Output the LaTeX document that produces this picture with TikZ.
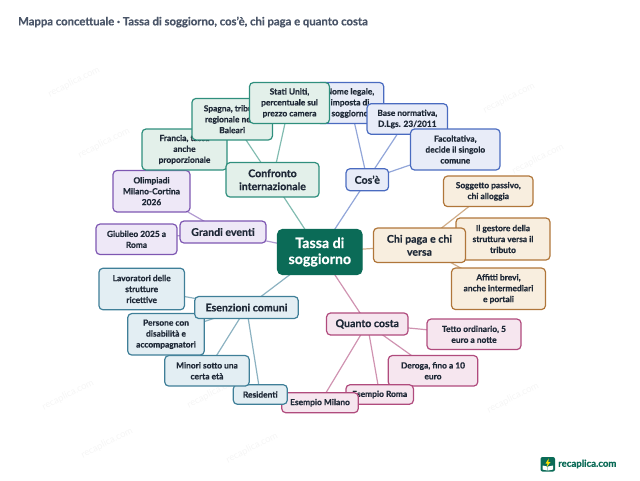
\documentclass[tikz,border=0pt]{standalone}
\usepackage{fontspec}
\setmainfont{Lato}[BoldFeatures={FakeBold=0.5}]
\usetikzlibrary{backgrounds}
\definecolor{rootgreen}{HTML}{0B6B57}
\definecolor{tealline}{HTML}{2F8F7D}
\definecolor{tealfill}{HTML}{E3F0EA}
\definecolor{blueline}{HTML}{4A6BC0}
\definecolor{bluefill}{HTML}{E8ECF8}
\definecolor{orangeline}{HTML}{B0763A}
\definecolor{orangefill}{HTML}{F8EEDF}
\definecolor{pinkline}{HTML}{B04B7D}
\definecolor{pinkfill}{HTML}{F6E6EF}
\definecolor{steelline}{HTML}{3F7F98}
\definecolor{steelfill}{HTML}{E3EEF3}
\definecolor{purpleline}{HTML}{7E57B2}
\definecolor{purplefill}{HTML}{EEE8F7}
\definecolor{titlegray}{HTML}{4A5568}
\definecolor{inkdark}{HTML}{1F2937}
\tikzset{
  box/.style={draw, line width=1.2pt, rounded corners=4pt, align=center, inner sep=0pt, text=inkdark},
  leaf/.style={box, font=\fontsize{8.4}{10.9}\selectfont\bfseries},
  branch/.style={box, font=\fontsize{10.6}{13}\selectfont\bfseries},
  teal/.style={draw=tealline, fill=tealfill},
  blue/.style={draw=blueline, fill=bluefill},
  orange/.style={draw=orangeline, fill=orangefill},
  pink/.style={draw=pinkline, fill=pinkfill},
  steel/.style={draw=steelline, fill=steelfill},
  purple/.style={draw=purpleline, fill=purplefill},
  link/.style={line width=1.2pt},
  wmark/.style={text=black!4, rotate=27, font=\fontsize{9.5}{11}\selectfont}
}
\begin{document}
\begin{tikzpicture}[x=1pt,y=-1pt]
  \useasboundingbox (0,0) rectangle (640,480);
  \node[anchor=west, inner sep=0pt, text=titlegray, font=\fontsize{11.3}{13}\selectfont\bfseries] (title) at (18,22) {Mappa concettuale · Tassa di soggiorno, cos'è, chi paga e quanto costa};
  % watermark
  \foreach \wx/\wy [count=\wi] in {74/82,104/143,509/98,538/159,107/443,252/448,68/395,213/393,513/398}
    \node[wmark] (wm\wi) at (\wx,\wy) {recaplica.com};
  % cos'e
  \node[leaf, blue, minimum width=67.5pt, minimum height=41pt] (nome) at (350,103) {Nome legale,\\imposta di\\soggiorno};
  \node[leaf, blue, minimum width=80.5pt, minimum height=30.5pt] (base) at (407.3,119) {Base normativa,\\D.Lgs. 23/2011};
  \node[leaf, blue, minimum width=89.5pt, minimum height=41pt] (facolt) at (455.3,149.5) {Facoltativa,\\decide il singolo\\comune};
  \node[branch, blue, minimum width=42.5pt, minimum height=22pt] (cose) at (367.3,179.7) {Cos'è};
  % chi paga
  \node[leaf, orange, minimum width=89.5pt, minimum height=30.5pt] (sogg) at (488.3,191.3) {Soggetto passivo,\\chi alloggia};
  \node[leaf, orange, minimum width=94pt, minimum height=42pt] (gest) at (503,239) {Il gestore della\\struttura versa il\\tributo};
  \node[leaf, orange, minimum width=94pt, minimum height=41.5pt] (affitti) at (498.5,288.8) {Affitti brevi,\\anche intermediari\\e portali};
  \node[branch, orange, minimum width=92pt, minimum height=34.5pt] (chipaga) at (419.5,245.3) {Chi paga e chi\\versa};
  % quanto costa
  \node[leaf, pink, minimum width=94pt, minimum height=30.5pt] (tetto) at (474,334.3) {Tetto ordinario, 5\\euro a notte};
  \node[leaf, pink, minimum width=89.5pt, minimum height=30.5pt] (deroga) at (433,370.8) {Deroga, fino a 10\\euro};
  \node[leaf, pink, minimum width=67.5pt, minimum height=19.5pt] (eroma) at (379.7,394.5) {Esempio Roma};
  \node[leaf, pink, minimum width=76.5pt, minimum height=20pt] (emilano) at (320,402.7) {Esempio Milano};
  \node[branch, pink, minimum width=81.5pt, minimum height=22pt] (quanto) at (367.3,324) {Quanto costa};
  % esenzioni
  \node[leaf, steel, minimum width=54pt, minimum height=19.5pt] (resid) at (260.3,394.5) {Residenti};
  \node[leaf, steel, minimum width=84.5pt, minimum height=30.5pt] (minori) at (207,370.8) {Minori sotto una\\certa età};
  \node[leaf, steel, minimum width=76.5pt, minimum height=41.5pt] (persone) at (166,334.3) {Persone con\\disabilità e\\accompagnatori};
  \node[leaf, steel, minimum width=85.5pt, minimum height=41.5pt] (lavor) at (141.7,289) {Lavoratori delle\\strutture\\ricettive};
  \node[branch, steel, minimum width=103.5pt, minimum height=22pt] (esenz) at (246.5,307.5) {Esenzioni comuni};
  % grandi eventi
  \node[leaf, purple, minimum width=81pt, minimum height=30.5pt] (giub) at (136.5,239.3) {Giubileo 2025 a\\Roma};
  \node[leaf, purple, minimum width=77pt, minimum height=41.5pt] (olimp) at (151.5,191.2) {Olimpiadi\\Milano-Cortina\\2026};
  \node[branch, purple, minimum width=86pt, minimum height=22pt] (grandi) at (223,232) {Grandi eventi};
  % confronto
  \node[leaf, teal, minimum width=85pt, minimum height=41pt] (francia) at (184.5,149.5) {Francia, tassa\\anche\\proporzionale};
  \node[leaf, teal, minimum width=80.5pt, minimum height=41.5pt] (spagna) at (232.2,119.2) {Spagna, tributo\\regionale nelle\\Baleari};
  \node[leaf, teal, minimum width=80pt, minimum height=41pt] (usa) at (289.5,103) {Stati Uniti,\\percentuale sul\\prezzo camera};
  \node[branch, teal, minimum width=93pt, minimum height=34.5pt] (confronto) at (272.5,179.8) {Confronto\\internazionale};
  % centre
  \node[box, draw=rootgreen, fill=rootgreen, text=white, rounded corners=5pt, minimum width=84.5pt, minimum height=45pt, font=\fontsize{14.2}{16}\selectfont\bfseries] (tassa) at (319.8,252) {Tassa di\\soggiorno};
  % links
  \begin{scope}[on background layer]
    \draw[link, tealline!60] (tassa.center) -- (confronto.center);
    \foreach \kid in {francia,spagna,usa} \draw[link, tealline!60] (confronto.center) -- (\kid.center);
    \draw[link, blueline!60] (tassa.center) -- (cose.center);
    \foreach \kid in {nome,base,facolt} \draw[link, blueline!60] (cose.center) -- (\kid.center);
    \draw[link, orangeline!60] (tassa.center) -- (chipaga.center);
    \foreach \kid in {sogg,gest,affitti} \draw[link, orangeline!60] (chipaga.center) -- (\kid.center);
    \draw[link, pinkline!60] (tassa.center) -- (quanto.center);
    \foreach \kid in {tetto,deroga,eroma,emilano} \draw[link, pinkline!60] (quanto.center) -- (\kid.center);
    \draw[link, steelline!60] (tassa.center) -- (esenz.center);
    \foreach \kid in {resid,minori,persone,lavor} \draw[link, steelline!60] (esenz.center) -- (\kid.center);
    \draw[link, purpleline!60] (tassa.center) -- (grandi.center);
    \foreach \kid in {giub,olimp} \draw[link, purpleline!60] (grandi.center) -- (\kid.center);
  \end{scope}
  % logo
  \fill[rootgreen, rounded corners=2pt] (540.5,457) rectangle (555,471.5);
  \fill[white] (542.5,465.5) -- (547.5,466.5) -- (547.5,470.5) -- (542.5,469.5) -- cycle;
  \fill[white] (553,465.5) -- (548,466.5) -- (548,470.5) -- (553,469.5) -- cycle;
  \fill[yellow!85!orange] (548.8,458.5) -- (545.5,463.5) -- (547.6,463.5) -- (546.6,467) -- (550.5,462) -- (548.3,462) -- cycle;
  \node[anchor=west, inner sep=0pt, text=rootgreen, font=\fontsize{9.6}{11}\selectfont\bfseries] (brand) at (558,464) {recaplica.com};
\end{tikzpicture}
\end{document}
